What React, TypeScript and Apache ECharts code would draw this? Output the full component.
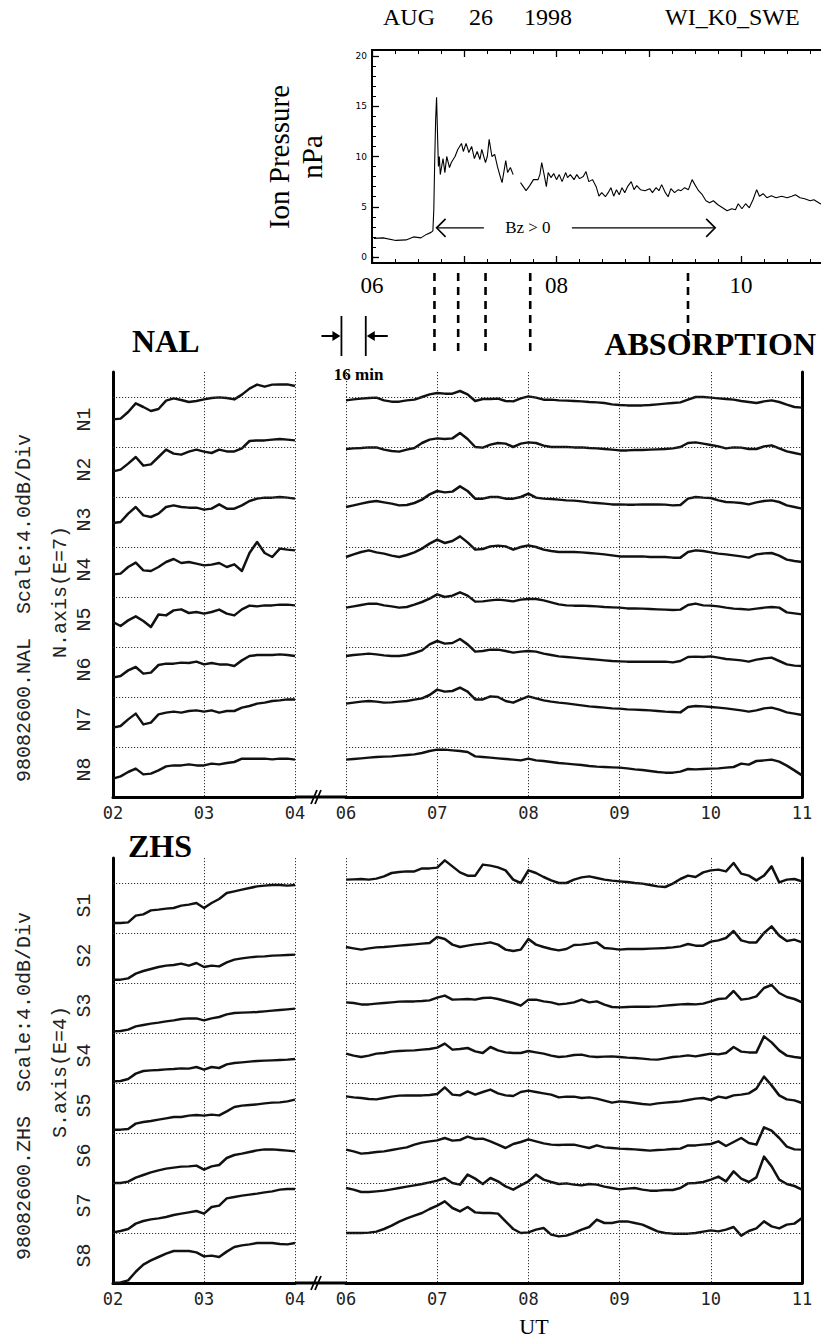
import React, { useEffect, useRef } from "react";
import * as echarts from "echarts";

const WIDTH = 821;
const HEIGHT = 1341;

// ---------- WIND SWE ion pressure (nPa), UT hours; null = data gap ----------
const pressureHours = [
  6.02, 6.12, 6.26, 6.37, 6.45, 6.53, 6.59, 6.64, 6.66, 6.67, 6.68, 6.69, 6.7, 6.71, 6.72, 6.73, 6.74, 6.77,
  6.79, 6.81, 6.84, 6.86, 6.9, 6.93, 6.97, 6.99, 7.02, 7.05, 7.08, 7.11, 7.14, 7.17, 7.19, 7.23, 7.25, 7.27,
  7.3, 7.33, 7.36, 7.39, 7.41, 7.43, 7.45, 7.47, 7.5, 7.53, 7.57, 7.61, 7.64, 7.67, 7.71, 7.75, 7.8, 7.82,
  7.84, 7.87, 7.89, 7.91, 7.94, 7.97, 8.0, 8.03, 8.06, 8.1, 8.12, 8.15, 8.19, 8.22, 8.25, 8.29, 8.32, 8.35,
  8.39, 8.43, 8.46, 8.49, 8.53, 8.56, 8.59, 8.62, 8.65, 8.68, 8.71, 8.74, 8.77, 8.81, 8.84, 8.87, 8.91, 8.96,
  9.01, 9.04, 9.08, 9.11, 9.14, 9.18, 9.21, 9.24, 9.28, 9.32, 9.35, 9.39, 9.43, 9.47, 9.5, 9.54, 9.58, 9.62,
  9.66, 9.7, 9.75, 9.8, 9.85, 9.9, 9.94, 9.97, 10.01, 10.05, 10.09, 10.13, 10.17, 10.2, 10.24, 10.28, 10.33,
  10.38, 10.44, 10.5, 10.55, 10.59, 10.64, 10.69, 10.75, 10.79, 10.86, 10.92,
];
const pressureValues: (number | null)[] = [
  1.85, 1.9, 1.65, 1.7, 2.0, 1.9, 2.25, 2.45, 2.6, 4.7, 9.7, 13.7, 15.9, 12.3, 9.0, 10.0, 8.2, 9.8,
  8.4, 10.0, 8.9, 9.4, 10.0, 10.7, 11.3, 10.5, 11.3, 10.4, 11.0, 9.8, 10.5, 9.7, 10.7, 9.4, 10.0, 11.7,
  10.0, 10.2, 9.0, 8.0, 7.4, 8.5, 9.6, 8.4, 8.9, 8.2, null, 7.4, 7.0, 6.6, 7.1, 7.7, 7.7, 8.2,
  9.4, 8.0, 7.0, 8.4, 7.9, 8.3, 7.7, 8.2, 7.5, 8.4, 7.9, 8.2, 7.7, 8.2, 7.8, 8.0, 8.5, 7.5,
  7.7, 7.0, 6.05, 6.4, 6.0, 6.4, 6.9, 6.05, 6.7, 6.2, 6.9, 6.4, 7.0, 7.5, 6.7, 7.1, 6.7, 6.6,
  6.8, 6.4, 6.9, 6.6, 7.2, 6.4, 6.0, 6.8, 6.4, 6.7, 6.6, 6.9, 6.7, 7.7, 7.2, 6.6, 6.2, 5.6,
  5.4, 5.6, 5.2, 4.9, 4.6, 4.8, 4.7, 5.3, 4.8, 5.3, 4.9, 5.7, 6.7, 6.05, 6.3, 5.9, 6.1,
  5.9, 6.05, 5.9, 6.05, 6.2, 5.9, 5.8, 5.6, 5.7, 5.3, 5.2,
];

// Northward-IMF interval (Bz > 0), UT hours, drawn at this pressure level
const bzPositive = [6.7, 9.72];
const bzLevel = 2.9;

// Riometer event markers (UT hours) and the 16-minute solar-wind delay
const eventHours = [6.97, 7.23, 7.53, 8.02, 9.75];
const delayStartHour = 5.95;
const delayMinutes = 16;

// ---------- Riometer absorption, dB relative to each beam's reference line ----------
// 02:00-04:00 and 06:00-11:00, 5-minute samples
const EARLY_HOURS = Array.from({ length: 25 }, (_, i) => 2 + (i * 5) / 60);
const LATE_HOURS = Array.from({ length: 61 }, (_, i) => 6 + (i * 5) / 60);
const DB_PER_DIV = 4;

// NAL
const N1_EARLY = [-1.79, -1.73, -1.2, -0.51, -0.8, -1.12, -0.96, -0.29, -0.11, -0.24, -0.4, -0.32, -0.19, -0.08, -0.03, -0.08, -0.19, 0.19, 0.67, 0.99, 0.83, 0.99, 1.01, 1.01, 0.88];
const N2_EARLY = [-1.95, -1.81, -1.33, -0.8, -1.49, -1.39, -0.8, -0.21, -0.53, -0.61, -0.37, -0.21, -0.37, -0.48, -0.21, -0.35, -0.35, -0.11, 0.48, 0.53, 0.53, 0.59, 0.64, 0.59, 0.53];
const N3_EARLY = [-2.08, -2.0, -1.33, -0.8, -1.47, -1.6, -1.33, -0.8, -0.67, -0.8, -0.85, -0.85, -1.01, -0.93, -0.59, -0.93, -0.93, -0.67, -0.32, -0.13, -0.05, -0.05, 0, -0.05, -0.13];
const N4_EARLY = [-2.19, -2.13, -1.6, -1.25, -1.87, -1.92, -1.6, -1.2, -0.96, -1.28, -1.2, -1.33, -1.47, -1.41, -1.28, -1.6, -1.39, -1.92, -0.48, 0.4, -0.48, -0.8, -0.13, -0.21, -0.27];
const N5_EARLY = [-2.0, -2.32, -1.87, -1.55, -1.92, -2.4, -1.4, -1.47, -1.07, -0.99, -1.28, -1.2, -1.33, -1.2, -1.01, -1.33, -1.47, -0.99, -0.69, -0.75, -0.67, -0.67, -0.61, -0.61, -0.67];
const N6_EARLY = [-2.45, -2.32, -1.87, -1.6, -2.13, -2.05, -1.44, -1.33, -1.33, -1.25, -1.28, -1.17, -1.39, -1.28, -1.39, -1.39, -1.52, -1.07, -0.72, -0.64, -0.64, -0.64, -0.59, -0.64, -0.72];
const N7_EARLY = [-2.45, -2.32, -1.79, -1.33, -2.19, -2.05, -1.39, -1.25, -1.17, -1.25, -1.12, -1.07, -1.17, -1.07, -1.25, -1.12, -1.12, -0.85, -0.72, -0.53, -0.45, -0.32, -0.27, -0.19, -0.19];
const N8_EARLY = [-2.53, -2.35, -2.0, -1.73, -2.19, -2.13, -1.87, -1.55, -1.47, -1.47, -1.39, -1.47, -1.47, -1.33, -1.39, -1.28, -1.2, -0.93, -0.93, -0.93, -0.93, -0.99, -0.93, -0.93, -1.01];

const N1_LATE = [
  -0.27, -0.19, -0.13, -0.08, -0.05, -0.27, -0.37, -0.37, -0.27, -0.21,
  0, 0.21, 0.32, 0.27, 0.27, 0.48, 0.21, -0.32, -0.16, -0.16,
  -0.13, -0.32, -0.35, -0.11, 0.05, -0.05, -0.21, -0.21, -0.27, -0.29,
  -0.32, -0.35, -0.4, -0.43, -0.48, -0.59, -0.64, -0.67, -0.67, -0.67,
  -0.64, -0.59, -0.53, -0.48, -0.43, -0.21, 0, 0, -0.05, -0.11,
  -0.16, -0.21, -0.32, -0.4, -0.48, -0.35, -0.27, -0.4, -0.61, -0.8, -0.85,
];
const N2_LATE = [
  -0.16, -0.11, -0.08, -0.03, -0.03, -0.21, -0.32, -0.37, -0.21, -0.08,
  0.32, 0.59, 0.69, 0.64, 0.69, 1.12, 0.64, 0, -0.05, 0.19,
  0.32, 0.27, 0, 0.27, 0.37, 0.32, 0.11, 0, 0, 0,
  -0.03, -0.03, -0.08, -0.11, -0.16, -0.21, -0.27, -0.27, -0.24, -0.24,
  -0.21, -0.19, -0.16, -0.11, 0, 0.32, 0.37, 0.27, 0.16, 0.05,
  -0.11, -0.03, -0.05, -0.16, -0.16, 0.05, 0.13, -0.11, -0.35, -0.48, -0.61,
];
const N3_LATE = [
  -0.8, -0.67, -0.53, -0.4, -0.32, -0.43, -0.53, -0.67, -0.64, -0.48,
  -0.21, 0.21, 0.48, 0.37, 0.43, 0.85, 0.48, -0.13, -0.13, 0,
  0, -0.13, -0.13, 0, 0.27, -0.05, -0.13, -0.16, -0.21, -0.27,
  -0.29, -0.35, -0.43, -0.48, -0.53, -0.59, -0.59, -0.61, -0.61, -0.59,
  -0.59, -0.59, -0.61, -0.67, -0.64, -0.13, 0, -0.05, -0.08, -0.27,
  -0.4, -0.43, -0.48, -0.59, -0.43, -0.32, -0.27, -0.4, -0.67, -0.8, -0.93,
];
const N4_LATE = [
  -0.8, -0.59, -0.4, -0.27, -0.43, -0.53, -0.69, -0.8, -0.64, -0.43,
  -0.13, 0.27, 0.59, 0.32, 0.48, 0.85, 0.37, -0.21, -0.16, 0.05,
  0.11, 0.05, -0.21, 0, 0.13, 0, -0.21, -0.32, -0.4, -0.4,
  -0.4, -0.43, -0.48, -0.53, -0.59, -0.67, -0.75, -0.75, -0.75, -0.75,
  -0.8, -0.8, -0.8, -0.85, -0.85, -0.4, -0.27, -0.32, -0.43, -0.53,
  -0.59, -0.67, -0.75, -0.85, -0.59, -0.51, -0.48, -0.69, -1.01, -1.12, -1.2,
];
const N5_LATE = [
  -0.85, -0.75, -0.64, -0.53, -0.53, -0.67, -0.75, -0.85, -0.8, -0.61,
  -0.4, -0.13, 0.21, 0, 0.11, 0.37, 0.11, -0.37, -0.35, -0.27,
  -0.21, -0.27, -0.35, -0.21, -0.16, -0.16, -0.27, -0.43, -0.59, -0.67,
  -0.69, -0.69, -0.72, -0.75, -0.8, -0.83, -0.85, -0.91, -0.91, -0.93,
  -0.96, -0.99, -1.01, -1.04, -1.01, -0.64, -0.53, -0.67, -0.69, -0.75,
  -0.85, -0.93, -0.96, -1.01, -0.93, -0.85, -0.8, -0.85, -1.23, -1.31, -1.39,
];
const N6_LATE = [
  -0.72, -0.64, -0.59, -0.53, -0.59, -0.67, -0.72, -0.72, -0.64, -0.48,
  -0.27, 0.21, 0.48, 0.27, 0.32, 0.64, 0.21, -0.37, -0.32, -0.21,
  -0.21, -0.32, -0.45, -0.37, -0.32, -0.37, -0.53, -0.64, -0.75, -0.8,
  -0.85, -0.91, -0.96, -1.01, -1.07, -1.12, -1.15, -1.17, -1.17, -1.17,
  -1.17, -1.17, -1.17, -1.23, -1.12, -0.8, -0.77, -0.8, -0.75, -0.85,
  -0.96, -1.01, -1.07, -1.17, -1.01, -0.91, -0.85, -1.12, -1.39, -1.49, -1.52,
];
const N7_LATE = [
  -0.53, -0.45, -0.37, -0.32, -0.37, -0.45, -0.43, -0.37, -0.32, -0.21,
  -0.11, 0.16, 0.59, 0.43, 0.48, 0.75, 0.43, -0.19, -0.19, 0.05,
  0, -0.32, -0.45, -0.19, 0.05, -0.11, -0.27, -0.37, -0.45, -0.51,
  -0.59, -0.67, -0.75, -0.8, -0.85, -0.91, -0.93, -0.99, -1.01, -1.04,
  -1.07, -1.12, -1.17, -1.2, -1.23, -0.8, -0.72, -0.75, -0.8, -0.85,
  -0.91, -0.99, -1.07, -1.17, -1.07, -0.91, -0.85, -1.01, -1.23, -1.33, -1.44,
];
const N8_LATE = [
  -1.01, -0.96, -0.91, -0.85, -0.8, -0.77, -0.75, -0.69, -0.64, -0.59,
  -0.48, -0.32, -0.21, -0.21, -0.27, -0.32, -0.4, -0.75, -0.8, -0.85,
  -0.91, -0.96, -1.01, -1.07, -0.93, -1.07, -1.12, -1.2, -1.28, -1.33,
  -1.39, -1.44, -1.52, -1.57, -1.6, -1.63, -1.65, -1.71, -1.79, -1.84,
  -1.92, -2.0, -2.05, -2.05, -1.97, -1.76, -1.79, -1.76, -1.73, -1.71,
  -1.65, -1.6, -1.33, -1.41, -1.12, -1.07, -1.01, -1.17, -1.49, -1.87, -2.27,
];

// ZHS
const S1_EARLY = [-3.2, -3.2, -3.15, -2.61, -2.51, -2.19, -2.13, -2.05, -2.0, -1.81, -1.73, -1.6, -2.0, -1.6, -1.28, -0.8, -0.67, -0.53, -0.4, -0.27, -0.21, -0.16, -0.16, -0.21, -0.16];
const S2_EARLY = [-3.73, -3.73, -3.63, -3.25, -3.04, -2.88, -2.72, -2.61, -2.56, -2.45, -2.61, -2.4, -2.72, -2.61, -2.67, -2.35, -2.13, -2.03, -1.95, -1.89, -1.87, -1.81, -1.79, -1.76, -1.73];
const S3_EARLY = [-3.87, -3.84, -3.73, -3.47, -3.36, -3.25, -3.17, -3.07, -2.99, -2.88, -2.83, -2.83, -2.99, -2.83, -2.72, -2.51, -2.4, -2.37, -2.35, -2.32, -2.27, -2.21, -2.16, -2.11, -2.05];
const S4_EARLY = [-3.87, -3.84, -3.68, -3.25, -3.04, -2.99, -2.96, -2.91, -2.88, -2.83, -2.85, -2.72, -2.93, -2.72, -2.8, -2.51, -2.4, -2.35, -2.29, -2.24, -2.21, -2.19, -2.16, -2.13, -2.08];
const S5_EARLY = [-3.73, -3.73, -3.68, -3.25, -3.12, -3.04, -2.93, -2.83, -2.72, -2.72, -2.61, -2.56, -2.61, -2.53, -2.59, -2.27, -1.92, -1.81, -1.76, -1.71, -1.63, -1.57, -1.55, -1.47, -1.33];
const S6_EARLY = [-4.0, -4.0, -3.89, -3.57, -3.36, -3.15, -2.99, -2.85, -2.77, -2.69, -2.67, -2.61, -2.93, -2.67, -2.56, -2.0, -1.76, -1.65, -1.52, -1.39, -1.31, -1.31, -1.36, -1.41, -1.47];
const S7_EARLY = [-3.95, -3.84, -3.68, -3.25, -3.04, -2.91, -2.83, -2.72, -2.56, -2.45, -2.35, -2.24, -2.45, -1.92, -1.81, -1.23, -1.12, -1.01, -0.93, -0.85, -0.75, -0.67, -0.53, -0.48, -0.48];
const S8_EARLY = [-4.0, -3.95, -3.79, -3.1, -2.53, -2.19, -1.92, -1.65, -1.44, -1.44, -1.44, -1.55, -1.87, -1.81, -1.92, -1.49, -1.12, -0.99, -0.91, -0.8, -0.8, -0.8, -0.88, -0.91, -0.8];

const S1_LATE = [
  0.27, 0.29, 0.32, 0.27, 0.35, 0.53, 0.8, 0.88, 0.93, 0.93,
  1.17, 1.17, 1.23, 1.81, 1.33, 0.85, 0.59, 0.59, 1.47, 1.39,
  1.25, 1.01, 0.27, 0, 1.01, 0.8, 0.48, 0.21, 0, 0,
  0.27, 0.45, 0.53, 0.4, 0.27, 0.19, 0.13, 0.08, 0, -0.05,
  -0.16, -0.27, -0.32, -0.05, 0.32, 0.59, 0.48, 0.85, 1.01, 1.07,
  0.93, 1.6, 0.75, 0.59, 0.21, 0.59, 1.33, 0.05, 0.27, 0.32, 0.13,
];
const S2_LATE = [
  -1.12, -1.23, -1.33, -1.23, -1.15, -1.12, -1.07, -1.01, -0.96, -0.91,
  -0.85, -0.8, -0.32, -0.48, -0.93, -1.12, -1.01, -0.91, -0.85, -0.75,
  -0.93, -1.33, -1.44, -1.33, -0.48, -0.93, -1.12, -1.28, -1.39, -1.28,
  -0.96, -0.93, -0.85, -0.75, -1.2, -1.25, -1.33, -1.28, -1.28, -1.28,
  -1.25, -1.23, -1.2, -1.15, -1.07, -0.88, -1.01, -1.01, -0.69, -0.59,
  -0.4, 0.16, -0.59, -0.75, -0.75, 0, 0.53, -0.21, -0.64, -0.53, -0.75,
];
const S3_LATE = [
  -1.55, -1.6, -1.71, -1.71, -1.65, -1.6, -1.55, -1.49, -1.47, -1.47,
  -1.44, -1.39, -1.17, -1.01, -1.33, -1.31, -1.28, -1.33, -1.2, -1.17,
  -1.28, -1.44, -1.6, -1.81, -1.33, -1.33, -1.47, -1.55, -1.71, -1.65,
  -1.55, -1.33, -1.55, -1.47, -1.73, -1.92, -1.95, -1.92, -1.89, -1.89,
  -1.89, -1.87, -1.81, -1.76, -1.71, -1.68, -1.71, -1.65, -1.47, -1.28,
  -1.23, -0.64, -1.33, -1.25, -1.07, -0.4, -0.16, -0.8, -1.12, -1.28, -1.55,
];
const S4_LATE = [
  -1.65, -1.81, -1.92, -1.81, -1.65, -1.6, -1.49, -1.44, -1.41, -1.39,
  -1.33, -1.28, -1.17, -0.85, -1.33, -1.28, -1.2, -1.47, -1.6, -1.12,
  -1.39, -1.55, -1.6, -1.6, -1.44, -1.55, -1.65, -1.81, -1.92, -1.87,
  -1.76, -1.73, -1.87, -1.92, -1.89, -1.87, -1.92, -1.97, -2.0, -2.05,
  -2.11, -2.13, -2.03, -1.92, -1.87, -1.79, -1.87, -1.76, -1.65, -1.71,
  -1.6, -1.12, -1.49, -1.55, -1.55, -0.27, -0.75, -1.39, -1.81, -1.92, -2.0,
];
const S5_LATE = [
  -1.07, -1.15, -1.2, -1.28, -1.31, -1.2, -1.09, -1.01, -0.99, -0.99,
  -0.99, -0.96, -0.88, -0.35, -0.93, -0.99, -0.67, -0.93, -0.72, -0.53,
  -0.83, -0.99, -1.04, -0.72, -0.61, -0.72, -0.83, -0.93, -1.15, -1.09,
  -1.09, -1.2, -1.15, -1.25, -1.41, -1.57, -1.47, -1.52, -1.6, -1.68,
  -1.73, -1.63, -1.57, -1.52, -1.47, -1.36, -1.25, -1.2, -1.36, -1.09,
  -1.2, -0.99, -0.93, -0.83, -0.45, 0.51, -0.19, -0.99, -1.31, -1.39, -1.6,
];
const S6_LATE = [
  -1.33, -1.47, -1.65, -1.6, -1.52, -1.47, -1.36, -1.25, -1.15, -0.93,
  -0.77, -0.67, -0.59, -0.4, -0.61, -0.56, -0.29, -0.48, -0.45, -0.67,
  -0.93, -1.2, -0.88, -0.72, -0.51, -0.67, -0.83, -0.93, -0.96, -0.93,
  -0.93, -1.07, -1.2, -0.99, -1.15, -1.2, -1.25, -1.28, -1.31, -1.36,
  -1.41, -1.36, -1.33, -1.28, -1.25, -0.99, -0.99, -0.93, -0.88, -0.67,
  -1.04, -0.72, -0.4, -0.8, -0.93, 0.45, 0.19, -0.4, -1.09, -1.31, -1.33,
];
const S7_LATE = [
  -0.4, -0.53, -0.72, -0.72, -0.67, -0.61, -0.51, -0.4, -0.29, -0.19,
  -0.08, 0.05, 0.19, 0.4, 0, -0.13, 0.67, 0.35, -0.08, 0.4,
  0.13, -0.27, -0.53, -0.19, 0.13, 0.67, 0.27, 0.08, -0.08, -0.03,
  -0.13, -0.19, -0.08, -0.13, -0.29, -0.4, -0.51, -0.45, -0.4, -0.53,
  -0.61, -0.61, -0.56, -0.56, -0.4, -0.03, 0, 0.08, 0.27, 0.51,
  0.13, 0.93, 0.35, 0.08, 0.45, 2.11, 1.33, 0.27, -0.08, -0.24, -0.53,
];
const S8_LATE = [
  0, 0, 0, 0.03, 0.11, 0.32, 0.59, 0.91, 1.17, 1.39,
  1.6, 1.92, 2.19, 2.53, 2.0, 1.73, 2.08, 1.65, 1.6, 1.6,
  1.55, 0.93, 0.32, 0, 0.05, 0.27, 0.4, -0.13, -0.27, -0.21,
  0, 0.27, 0.48, 1.07, 0.8, 0.8, 0.93, 0.93, 0.8, 0.67,
  0.4, 0.13, 0, -0.05, -0.05, -0.05, 0, 0.11, 0.21, 0.13,
  0.27, 0.48, -0.21, 0.16, 0.37, 0.93, 0.53, 0.37, 0.67, 0.75, 1.2,
];

const NAL_NAMES = ["N1", "N2", "N3", "N4", "N5", "N6", "N7", "N8"];
const ZHS_NAMES = ["S1", "S2", "S3", "S4", "S5", "S6", "S7", "S8"];
const NAL_EARLY = [N1_EARLY, N2_EARLY, N3_EARLY, N4_EARLY, N5_EARLY, N6_EARLY, N7_EARLY, N8_EARLY];
const NAL_LATE = [N1_LATE, N2_LATE, N3_LATE, N4_LATE, N5_LATE, N6_LATE, N7_LATE, N8_LATE];
const ZHS_EARLY = [S1_EARLY, S2_EARLY, S3_EARLY, S4_EARLY, S5_EARLY, S6_EARLY, S7_EARLY, S8_EARLY];
const ZHS_LATE = [S1_LATE, S2_LATE, S3_LATE, S4_LATE, S5_LATE, S6_LATE, S7_LATE, S8_LATE];
const REF_LEVELS = [1, 2, 3, 4, 5, 6, 7, 8];

// ---------- layout ----------
const TOP_LEFT = 372;
const TOP_PX_PER_HOUR = 92.25;
const TOP_ZERO_Y = 257;
const TOP_PX_PER_NPA = 10.05;
const TOP_MAX_HOUR = 11.5;

const DIV_PX = 50;
const Y_MAX_DIV = 8.5;
const PANEL_H = DIV_PX * Y_MAX_DIV;
const NAL_AXIS_Y = 797;
const ZHS_AXIS_Y = 1283;
const EARLY_LEFT = 113;
const EARLY_W = 182;
const LATE_LEFT = 346;
const LATE_W = 456;

const topX = (h: number) => TOP_LEFT + (h - 6) * TOP_PX_PER_HOUR;
const topY = (v: number) => TOP_ZERO_Y - v * TOP_PX_PER_NPA;
const lateX = (h: number) => LATE_LEFT + ((h - 6) * LATE_W) / 5;
const pad2 = (v: number) => (v < 10 ? "0" : "") + v;

const SERIF = "Liberation Serif";
const MONO = "Liberation Mono";
const INK = "#111";
const TRACE_W = 2.5;

function txt(text: string, x: number, y: number, size: number, opts: any = {}) {
  return {
    type: "text",
    x,
    y,
    rotation: opts.rotation || 0,
    scaleX: opts.scaleX || 1,
    silent: true,
    style: {
      text,
      fill: opts.color || "#000",
      fontSize: size,
      fontFamily: opts.family || SERIF,
      fontWeight: opts.weight || "normal",
      align: opts.align || "left",
      textAlign: opts.align || "left",
      verticalAlign: "middle",
      textVerticalAlign: "middle",
    },
  };
}
function seg(x1: number, y1: number, x2: number, y2: number, w: number, dash?: number[]) {
  return {
    type: "line",
    silent: true,
    shape: { x1, y1, x2, y2 },
    style: { stroke: "#000", lineWidth: w, lineDash: dash || null },
  };
}

function stationSeries(early: number[][], late: number[][], xE: number, yE: number, xL: number, yL: number) {
  const out: any[] = [];
  const refLine = {
    silent: true,
    symbol: ["none", "none"],
    label: { show: false },
    lineStyle: { type: [1.2, 1.8], color: "#333", width: 1 },
    data: REF_LEVELS.map((l) => ({ yAxis: l })),
  };
  const mk = (db: number[], k: number, hours: number[], xi: number, yi: number) => ({
    type: "line",
    xAxisIndex: xi,
    yAxisIndex: yi,
    symbol: "none",
    lineStyle: { color: INK, width: TRACE_W, join: "round" },
    data: hours.map((h, i) => [h, 8 - k + db[i] / DB_PER_DIV]),
    markLine: k === 0 ? refLine : undefined,
  });
  early.forEach((db, k) => out.push(mk(db, k, EARLY_HOURS, xE, yE)));
  late.forEach((db, k) => out.push(mk(db, k, LATE_HOURS, xL, yL)));
  return out;
}

function stationAxes(grid: number, early: boolean) {
  return {
    gridIndex: grid,
    type: "value",
    min: early ? 2 : 6,
    max: early ? 4 : 11,
    interval: 1,
    axisLine: { show: true, onZero: false, lineStyle: { color: "#000", width: 3 } },
    axisTick: { show: false },
    axisLabel: {
      formatter: (v: number) => pad2(v),
      fontFamily: "DejaVu Sans Mono",
      fontSize: 17,
      color: "#222",
      margin: 7,
    },
    splitLine: { show: true, lineStyle: { type: [1.2, 1.8], color: "#333", width: 1 } },
  };
}
function stationYAxis(grid: number, pos: "left" | "right") {
  return {
    gridIndex: grid,
    type: "value",
    min: 0,
    max: Y_MAX_DIV,
    position: pos,
    axisLine: { show: true, onZero: false, lineStyle: { color: "#000", width: 3 } },
    axisTick: { show: false },
    axisLabel: { show: false },
    splitLine: { show: false },
  };
}

function stationGraphics(axisY: number, names: string[], fileLabel: string, axisLabel: string, fileY: number, axisLabelY: number) {
  const g: any[] = [];
  // axis continues across the time gap, with a break mark
  g.push(seg(EARLY_LEFT + EARLY_W, axisY, LATE_LEFT, axisY, 3));
  g.push(seg(311, axisY + 7, 317, axisY - 7, 1.8));
  g.push(seg(315, axisY + 7, 321, axisY - 7, 1.8));
  names.forEach((n, k) => {
    const level = 8 - k;
    g.push(txt(n, 84, axisY - (level - 0.45) * DIV_PX, 20, { family: MONO, rotation: Math.PI / 2, align: "center", color: "#222" }));
  });
  g.push(txt(fileLabel, 24, fileY, 20, { family: MONO, rotation: Math.PI / 2, align: "center", color: "#222" }));
  g.push(txt(axisLabel, 60, axisLabelY, 20, { family: MONO, rotation: Math.PI / 2, align: "center", color: "#222" }));
  return g;
}

function buildOption() {
  const grids = [
    { left: TOP_LEFT, top: topY(20), width: (TOP_MAX_HOUR - 6) * TOP_PX_PER_HOUR, height: 20 * TOP_PX_PER_NPA },
    { left: EARLY_LEFT, top: NAL_AXIS_Y - PANEL_H, width: EARLY_W, height: PANEL_H },
    { left: LATE_LEFT, top: NAL_AXIS_Y - PANEL_H, width: LATE_W, height: PANEL_H },
    { left: EARLY_LEFT, top: ZHS_AXIS_Y - PANEL_H, width: EARLY_W, height: PANEL_H },
    { left: LATE_LEFT, top: ZHS_AXIS_Y - PANEL_H, width: LATE_W, height: PANEL_H },
  ].map((g) => ({ ...g, containLabel: false, outerBoundsMode: "none" }));

  const topTick = { show: true, inside: true, length: 7, lineStyle: { color: "#000", width: 1.3 } };
  const topMinor = { show: true, splitNumber: 4, length: 4, lineStyle: { color: "#000", width: 1 } };

  const xAxis = [
    {
      gridIndex: 0,
      type: "value",
      min: 6,
      max: TOP_MAX_HOUR,
      interval: 1,
      position: "bottom",
      offset: 6,
      axisLine: { show: false, onZero: false },
      axisTick: topTick,
      minorTick: topMinor,
      axisLabel: {
        formatter: (v: number) => (v % 2 === 0 && v <= 10 ? pad2(v) : ""),
        fontFamily: SERIF,
        fontSize: 23,
        color: "#000",
        margin: 11,
      },
      splitLine: { show: false },
    },
    {
      gridIndex: 0,
      type: "value",
      min: 6,
      max: TOP_MAX_HOUR,
      interval: 1,
      position: "top",
      offset: 6,
      axisLine: { show: false, onZero: false },
      axisTick: topTick,
      minorTick: topMinor,
      axisLabel: { show: false },
      splitLine: { show: false },
    },
    stationAxes(1, true),
    stationAxes(2, false),
    stationAxes(3, true),
    stationAxes(4, false),
  ];

  const yAxis = [
    {
      gridIndex: 0,
      type: "value",
      min: 0,
      max: 20,
      interval: 5,
      axisLine: { show: false, onZero: false },
      axisTick: { show: true, inside: true, length: 7, lineStyle: { color: "#000", width: 1.3 } },
      minorTick: { show: true, splitNumber: 5, length: 4, lineStyle: { color: "#000", width: 1 } },
      axisLabel: { fontFamily: "DejaVu Sans", fontSize: 9, color: "#000", margin: 5 },
      splitLine: { show: false },
    },
    stationYAxis(1, "left"),
    stationYAxis(2, "right"),
    stationYAxis(3, "left"),
    stationYAxis(4, "right"),
  ];

  const series: any[] = [
    {
      type: "line",
      xAxisIndex: 0,
      yAxisIndex: 0,
      symbol: "none",
      connectNulls: false,
      lineStyle: { color: "#000", width: 1.1 },
      data: pressureHours.map((h, i) => [h, pressureValues[i] === null ? "-" : pressureValues[i]]),
    },
    ...stationSeries(NAL_EARLY, NAL_LATE, 2, 1, 3, 2),
    ...stationSeries(ZHS_EARLY, ZHS_LATE, 4, 3, 5, 4),
  ];

  const graphic: any[] = [];
  // ion pressure frame
  graphic.push({
    type: "rect",
    silent: true,
    shape: { x: TOP_LEFT, y: topY(20) - 6, width: 540, height: 20 * TOP_PX_PER_NPA + 12 },
    style: { stroke: "#000", lineWidth: 2, fill: "rgba(0,0,0,0)" },
  });
  graphic.push(txt("AUG", 383, 17, 24));
  graphic.push(txt("26", 469, 17, 24));
  graphic.push(txt("1998", 524, 17, 24));
  graphic.push(txt("WI_K0_SWE", 665, 17, 24));
  graphic.push(txt("Ion Pressure", 279, 157, 29, { rotation: Math.PI / 2, align: "center" }));
  graphic.push(txt("nPa", 312, 157, 29, { rotation: Math.PI / 2, align: "center" }));

  // Bz > 0 interval arrow
  const bx1 = topX(bzPositive[0]);
  const bx2 = topX(bzPositive[1]);
  const by = topY(bzLevel);
  const bMid = (bx1 + bx2) / 2 - 48;
  graphic.push(seg(bx1, by, bMid - 44, by, 1.4));
  graphic.push(seg(bMid + 44, by, bx2, by, 1.4));
  graphic.push({ type: "polyline", silent: true, shape: { points: [[bx1 + 9, by - 9], [bx1, by], [bx1 + 9, by + 9]] }, style: { stroke: "#000", lineWidth: 1.6, fill: null } });
  graphic.push({ type: "polyline", silent: true, shape: { points: [[bx2 - 9, by - 9], [bx2, by], [bx2 - 9, by + 9]] }, style: { stroke: "#000", lineWidth: 1.6, fill: null } });
  graphic.push(txt("Bz > 0", bMid, by, 17, { align: "center" }));

  // event markers
  eventHours.forEach((h, i) => {
    const x = lateX(h);
    const yEnd = i === eventHours.length - 1 ? 336 : 356;
    graphic.push(seg(x, 273, x, yEnd, 2.6, [8, 6]));
  });

  // 16-minute delay bars
  const d1 = lateX(delayStartHour);
  const d2 = lateX(delayStartHour + delayMinutes / 60);
  const dy = 336;
  graphic.push(seg(d1, 316, d1, 356, 1.8));
  graphic.push(seg(d2, 316, d2, 356, 1.8));
  graphic.push(seg(d1 - 20, dy, d1 - 6, dy, 2));
  graphic.push(seg(d2 + 6, dy, d2 + 22, dy, 2));
  graphic.push({ type: "polygon", silent: true, shape: { points: [[d1 - 1, dy], [d1 - 9, dy - 5], [d1 - 9, dy + 5]] }, style: { fill: "#000" } });
  graphic.push({ type: "polygon", silent: true, shape: { points: [[d2 + 1, dy], [d2 + 9, dy - 5], [d2 + 9, dy + 5]] }, style: { fill: "#000" } });
  graphic.push(txt(`${delayMinutes} min`, (d1 + d2) / 2 + 5, 374, 17, { weight: "bold", align: "center" }));

  // panel titles
  graphic.push(txt("NAL", 132, 341, 32, { weight: "bold" }));
  graphic.push(txt("ABSORPTION", 816, 344, 32, { weight: "bold", align: "right" }));
  graphic.push(txt("ZHS", 128, 846, 32, { weight: "bold" }));
  graphic.push(txt("UT", 534, 1326, 22, { align: "center" }));

  graphic.push(...stationGraphics(NAL_AXIS_Y, NAL_NAMES, "98082600.NAL  Scale:4.0dB/Div", "N.axis(E=7)", 608, 592));
  graphic.push(...stationGraphics(ZHS_AXIS_Y, ZHS_NAMES, "98082600.ZHS  Scale:4.0dB/Div", "S.axis(E=4)", 1086, 1072));

  return {
    animation: false,
    backgroundColor: "#fff",
    grid: grids,
    xAxis,
    yAxis,
    series,
    graphic: { elements: graphic },
  };
}

export default function App() {
  const ref = useRef<HTMLDivElement>(null);
  useEffect(() => {
    if (!ref.current) return;
    const chart = echarts.init(ref.current, undefined, { renderer: "svg", width: WIDTH, height: HEIGHT });
    chart.setOption(buildOption() as any);
    return () => chart.dispose();
  }, []);
  return (
    <div
      ref={ref}
      style={{ position: "absolute", left: 0, top: 0, width: WIDTH, height: HEIGHT, background: "#fff" }}
    />
  );
}
